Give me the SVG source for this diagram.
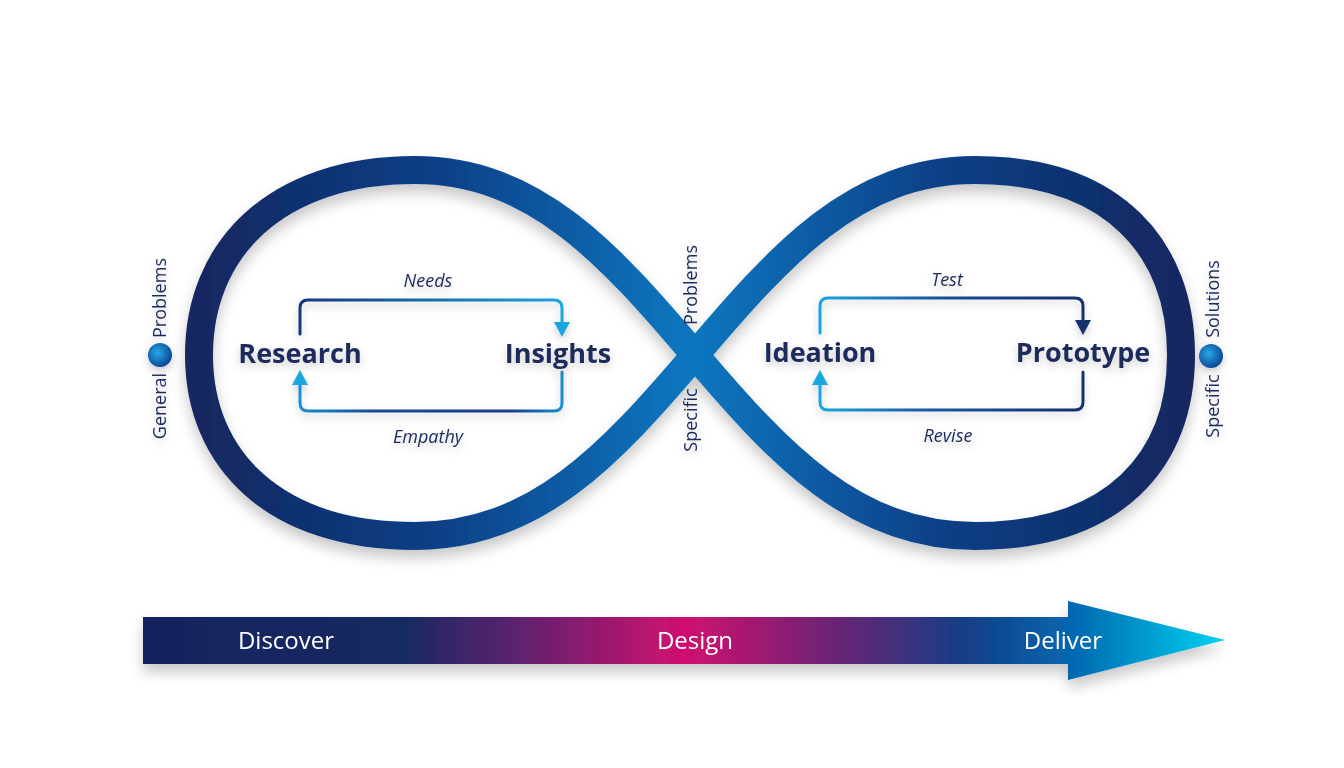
<svg xmlns="http://www.w3.org/2000/svg" width="1344" height="768" viewBox="0 0 1344 768">
<defs>
<style>
.node{font-family:"Open Sans","Noto Sans",sans-serif;font-weight:700;font-size:27px;fill:#1b2a5c;text-anchor:middle}
.lbl{font-family:"Open Sans","Noto Sans",sans-serif;font-style:italic;font-size:18px;fill:#1b2a5c;text-anchor:middle}
.side{font-family:"Open Sans","Noto Sans",sans-serif;font-size:18px;fill:#1b2a5c;text-anchor:middle}
.phase{font-family:"Open Sans","Noto Sans",sans-serif;font-size:24px;fill:#ffffff;text-anchor:middle}
.loop{fill:none;stroke-width:3;stroke-linecap:round;stroke-linejoin:round}
</style>
<linearGradient id="inf" gradientUnits="userSpaceOnUse" x1="185" y1="0" x2="1195" y2="0">
<stop offset="0" stop-color="#13265e"/>
<stop offset="0.25" stop-color="#0e3f86"/>
<stop offset="0.5" stop-color="#0a77c0"/>
<stop offset="0.75" stop-color="#0e3f86"/>
<stop offset="1" stop-color="#13265e"/>
</linearGradient>
<linearGradient id="bar" gradientUnits="userSpaceOnUse" x1="143" y1="0" x2="1225" y2="0">
<stop offset="0" stop-color="#13235e"/>
<stop offset="0.24" stop-color="#172a62"/>
<stop offset="0.34" stop-color="#5a226e"/>
<stop offset="0.5" stop-color="#d1106f"/>
<stop offset="0.64" stop-color="#6a2474"/>
<stop offset="0.76" stop-color="#143e86"/>
<stop offset="0.86" stop-color="#0568b0"/>
<stop offset="1" stop-color="#00d2f2"/>
</linearGradient>
<linearGradient id="gL" gradientUnits="userSpaceOnUse" x1="300" y1="0" x2="562" y2="0">
<stop offset="0" stop-color="#15357a"/>
<stop offset="1" stop-color="#1aa6e0"/>
</linearGradient>
<linearGradient id="gLb" gradientUnits="userSpaceOnUse" x1="300" y1="0" x2="562" y2="0">
<stop offset="0" stop-color="#1a8fd0"/>
<stop offset="0.3" stop-color="#15488f"/>
<stop offset="0.8" stop-color="#153f88"/>
<stop offset="1" stop-color="#1a8fd0"/>
</linearGradient>
<linearGradient id="gR" gradientUnits="userSpaceOnUse" x1="820" y1="0" x2="1083" y2="0">
<stop offset="0" stop-color="#1aa6e0"/>
<stop offset="0.5" stop-color="#1a4a94"/>
<stop offset="1" stop-color="#17306e"/>
</linearGradient>
<linearGradient id="gRb" gradientUnits="userSpaceOnUse" x1="820" y1="0" x2="1083" y2="0">
<stop offset="0" stop-color="#1aa6e0"/>
<stop offset="0.4" stop-color="#1a5aa4"/>
<stop offset="1" stop-color="#17306e"/>
</linearGradient>
<radialGradient id="dot" cx="0.4" cy="0.4" r="0.6">
<stop offset="0" stop-color="#2aa8e8"/>
<stop offset="1" stop-color="#0a4a9a"/>
</radialGradient>
<filter id="sh" x="-10%" y="-10%" width="120%" height="130%">
<feDropShadow dx="0" dy="8" stdDeviation="7" flood-color="#000" flood-opacity="0.22"/>
</filter>
<filter id="tsh" x="-20%" y="-30%" width="140%" height="170%">
<feDropShadow dx="0" dy="4" stdDeviation="4" flood-color="#000" flood-opacity="0.2"/>
</filter>
</defs>
<rect width="1344" height="768" fill="#ffffff"/>

<g id="infinity" filter="url(#sh)">
<path d="M 695 355 C 610 255 535 170 415 170 C 275 170 199 250 199 355 C 199 460 275 536 415 536 C 535 536 610 455 695 355 C 780 255 855 170 975 170 C 1115 170 1181 250 1181 355 C 1181 460 1115 536 975 536 C 855 536 780 455 695 355 Z" fill="none" stroke="url(#inf)" stroke-width="28"/>
</g>

<g id="connectors">
<g id="loop-discover" filter="url(#tsh)">
<path class="loop" d="M 300 334 V 308 Q 300 300 308 300 H 554 Q 562 300 562 308 V 324" stroke="url(#gL)"/>
<polygon points="554,322 570,322 562,337" fill="#1aa6e0"/>
<path class="loop" d="M 562 372 V 403 Q 562 411 554 411 H 308 Q 300 411 300 403 V 382" stroke="url(#gLb)"/>
<polygon points="292,385 308,385 300,370" fill="#1aa6e0"/>
</g>
<g id="loop-deliver" filter="url(#tsh)">
<path class="loop" d="M 820 333 V 306 Q 820 298 828 298 H 1075 Q 1083 298 1083 306 V 322" stroke="url(#gR)"/>
<polygon points="1075,320 1091,320 1083,335" fill="#17306e"/>
<path class="loop" d="M 1083 372 V 402 Q 1083 410 1075 410 H 828 Q 820 410 820 402 V 382" stroke="url(#gRb)"/>
<polygon points="812,385 828,385 820,370" fill="#1aa6e0"/>
</g>
</g>

<g id="edge-labels" filter="url(#tsh)">
<text class="lbl" x="428" y="287">Needs</text>
<text class="lbl" x="428" y="443">Empathy</text>
<text class="lbl" x="947" y="286">Test</text>
<text class="lbl" x="948" y="442">Revise</text>
</g>

<g id="node-research" filter="url(#tsh)"><text class="node" x="300" y="363">Research</text></g>
<g id="node-insights" filter="url(#tsh)"><text class="node" x="558" y="363">Insights</text></g>
<g id="node-ideation" filter="url(#tsh)"><text class="node" x="820" y="362">Ideation</text></g>
<g id="node-prototype" filter="url(#tsh)"><text class="node" x="1083" y="362">Prototype</text></g>

<g id="marker-left" filter="url(#tsh)">
<circle cx="160" cy="355" r="12" fill="url(#dot)"/>
<text class="side" transform="translate(166 406) rotate(-90)">General</text>
<text class="side" transform="translate(166 298) rotate(-90)">Problems</text>
</g>
<g id="marker-mid" filter="url(#tsh)">
<text class="side" transform="translate(697 285) rotate(-90)">Problems</text>
<text class="side" transform="translate(697 420) rotate(-90)">Specific</text>
</g>
<g id="marker-right" filter="url(#tsh)">
<circle cx="1211" cy="356" r="12" fill="url(#dot)"/>
<text class="side" transform="translate(1219 299) rotate(-90)">Solutions</text>
<text class="side" transform="translate(1219 406) rotate(-90)">Specific</text>
</g>

<g id="phase-arrow" filter="url(#sh)">
<path d="M 143 617 H 1068 V 601 L 1225 640 L 1068 680 V 664 H 143 Z" fill="url(#bar)"/>
<text class="phase" x="286" y="649">Discover</text>
<text class="phase" x="695" y="649">Design</text>
<text class="phase" x="1063" y="649">Deliver</text>
</g>
</svg>
